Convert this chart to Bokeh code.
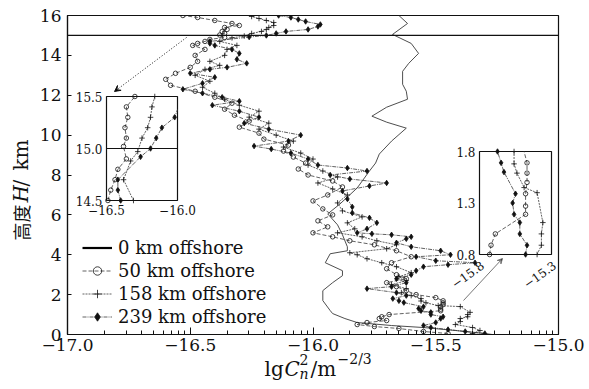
import math
from bokeh.plotting import figure
from bokeh.models import Range1d, FixedTicker, Span, Label, Arrow, VeeHead
from bokeh.embed import file_html
from bokeh.resources import INLINE

# ---------------- data ----------------
h_0km = [0.0, 0.05, 0.2, 0.35, 0.45, 0.6, 0.8, 1.05, 1.2, 1.7, 2.2, 2.6, 2.95, 3.2, 3.6,
         4.05, 4.2, 4.4, 5.0, 5.5, 6.05, 6.55, 7.35, 8.2, 8.6, 9.05, 9.7, 10.35, 10.65,
         10.95, 11.4, 11.8, 12.2, 12.55, 13.2, 13.6, 14.1, 14.6, 15.05, 15.6, 16.0]
x_0km = [-15.27, -15.30, -15.42, -15.55, -15.68, -15.82, -15.87, -15.92, -15.93, -15.96,
         -15.96, -15.92, -15.88, -15.88, -15.95, -15.93, -15.86, -15.86, -15.88, -15.90,
         -15.94, -15.89, -15.82, -15.77, -15.745, -15.73, -15.68, -15.62, -15.70, -15.76,
         -15.70, -15.615, -15.62, -15.635, -15.635, -15.61, -15.57, -15.60, -15.676,
         -15.615, -15.65]

h_50km = [0.05, 0.15, 0.3, 0.4, 0.5, 0.6, 0.7, 0.8, 0.89, 1.0, 1.19, 1.27, 1.39, 1.5, 1.59,
          1.69, 1.85, 2.0, 2.2, 2.4, 2.6, 2.8, 3.0, 3.3, 3.6, 3.9, 4.2, 4.5, 4.7, 4.9, 5.1,
          5.4, 5.7, 6.0, 6.3, 6.7, 7.0, 7.4, 7.7, 8.0, 8.3, 8.6, 8.9, 9.2, 9.5, 9.8, 10.1,
          10.4, 10.7, 11.0, 11.3, 11.6, 11.9, 12.2, 12.5, 12.8, 13.1, 13.4, 13.7, 14.0,
          14.3, 14.5, 14.6, 14.7, 14.8, 14.9, 15.02, 15.1, 15.2, 15.3, 15.4, 15.5, 15.6,
          15.75, 15.9, 16.0]
x_50km = [-15.45, -15.55, -15.65, -15.75, -15.82, -15.78, -15.70, -15.73, -15.72, -15.69,
          -15.48, -15.48, -15.48, -15.47, -15.47, -15.47, -15.50, -15.58, -15.62, -15.66,
          -15.70, -15.62, -15.66, -15.70, -15.68, -15.60, -15.66, -15.75, -15.85, -15.92,
          -16.00, -15.94, -15.98, -15.92, -15.96, -16.00, -15.94, -15.88, -15.92, -16.02,
          -16.06, -16.03, -16.08, -16.12, -16.10, -16.20, -16.22, -16.30, -16.26, -16.32,
          -16.36, -16.33, -16.40, -16.48, -16.58, -16.60, -16.56, -16.50, -16.47, -16.48,
          -16.44, -16.49, -16.47, -16.44, -16.42, -16.36, -16.38, -16.36, -16.37, -16.35,
          -16.36, -16.30, -16.33, -16.40, -16.47, -16.53]

h_158km = [0.05, 0.2, 0.35, 0.5, 0.65, 0.8, 0.89, 1.0, 1.11, 1.4, 1.45, 1.59, 1.68, 1.8,
           1.95, 2.1, 2.3, 2.5, 2.7, 2.9, 3.1, 3.4, 3.6, 3.8, 4.0, 4.1, 4.3, 4.5, 4.7, 4.9,
           5.1, 5.3, 5.6, 5.9, 6.2, 6.6, 7.0, 7.3, 7.6, 7.9, 8.2, 8.5, 8.8, 9.1, 9.4, 9.7,
           10.0, 10.3, 10.6, 10.9, 11.2, 11.5, 11.8, 12.1, 12.4, 12.7, 13.0, 13.3, 13.5,
           13.7, 14.0, 14.3, 14.5, 14.7, 14.88, 14.97, 15.1, 15.2, 15.3, 15.4, 15.5, 15.65,
           15.75, 15.85, 15.95]
x_158km = [-15.35, -15.32, -15.35, -15.42, -15.40, -15.40, -15.37, -15.37, -15.36, -15.40,
           -15.49, -15.54, -15.56, -15.56, -15.60, -15.64, -15.62, -15.68, -15.62, -15.65,
           -15.60, -15.66, -15.72, -15.78, -15.82, -15.85, -15.70, -15.66, -15.74, -15.80,
           -15.90, -15.83, -15.86, -15.80, -15.88, -15.90, -15.86, -15.92, -15.98, -15.90,
           -15.96, -16.02, -16.00, -16.05, -16.12, -16.08, -16.15, -16.22, -16.18, -16.26,
           -16.22, -16.30, -16.36, -16.40, -16.45, -16.42, -16.48, -16.44, -16.38, -16.42,
           -16.36, -16.35, -16.31, -16.38, -16.33, -16.28, -16.25, -16.21, -16.19, -16.18,
           -16.16, -16.16, -16.19, -16.22, -16.25]

h_239km = [0.05, 0.15, 0.25, 0.35, 0.45, 0.6, 0.8, 0.89, 1.0, 1.11, 1.19, 1.3, 1.39, 1.6,
           1.69, 1.8, 1.95, 2.1, 2.3, 2.4, 2.6, 2.8, 3.0, 3.2, 3.4, 3.5, 3.6, 3.7, 3.9, 4.0,
           4.2, 4.4, 4.6, 4.8, 4.9, 5.0, 5.05, 5.1, 5.3, 5.6, 5.85, 6.1, 6.4, 6.8, 7.2,
           7.45, 7.6, 7.8, 8.0, 8.2, 8.35, 8.5, 8.8, 9.1, 9.3, 9.45, 9.7, 10.0, 10.3, 10.6,
           10.9, 11.2, 11.5, 11.7, 11.9, 12.1, 12.3, 12.6, 12.9, 13.1, 13.3, 13.4, 13.6,
           13.8, 14.1, 14.3, 14.5, 14.6, 14.7, 14.92, 15.0, 15.1, 15.2, 15.3, 15.45, 15.55,
           15.7, 15.8, 15.9, 16.0]
x_239km = [-15.30, -15.38, -15.45, -15.52, -15.55, -15.50, -15.48, -15.47, -15.52, -15.52,
           -15.56, -15.57, -15.55, -15.63, -15.65, -15.675, -15.62, -15.66, -15.78, -15.68,
           -15.62, -15.66, -15.60, -15.58, -15.55, -15.45, -15.34, -15.50, -15.58, -15.44,
           -15.48, -15.60, -15.66, -15.62, -15.60, -15.68, -15.76, -15.82, -15.78, -15.74,
           -15.77, -15.84, -15.84, -15.86, -15.88, -15.77, -15.70, -15.85, -15.93, -15.78,
           -15.86, -15.98, -16.02, -16.09, -16.17, -16.24, -16.10, -16.05, -16.18, -16.28,
           -16.22, -16.30, -16.41, -16.30, -16.37, -16.45, -16.53, -16.45, -16.40, -16.50,
           -16.42, -16.35, -16.27, -16.31, -16.30, -16.33, -16.40, -16.42, -16.42, -16.26,
           -16.19, -16.15, -16.11, -16.02, -15.98, -15.97, -16.03, -16.06, -16.09, -16.14]

series_names = ["0 km offshore", "50 km offshore", "158 km offshore", "239 km offshore"]
x_ticks = [-17.0, -16.5, -16.0, -15.5, -15.0]
x_tick_labels = ["\u221217.0", "\u221216.5", "\u221216.0", "\u221215.5", "\u221215.0"]
y_ticks = [0, 2, 4, 6, 8, 10, 12, 14, 16]
h_top_line = 15.0

# ---------------- layout constants ----------------
X0, X1, Y0, Y1 = -17.0, -15.0, 0.0, 16.0
FL, FT, FW, FH = 67, 15, 491, 319           # frame left/top/width/height in px
PXX = FW / (X1 - X0)
PXY = FH / (Y1 - Y0)


def dx(px):
    return X0 + (px - FL) / PXX


def dy(py):
    return Y0 + (FT + FH - py) / PXY


INSET1 = dict(src=(-16.5, -16.0, 14.5, 15.5), box=(106, 177, 96, 200))
INSET2 = dict(src=(-15.8, -15.3, 0.8, 1.8), box=(479, 551, 151, 254))

SERIF = "DejaVu Serif"
INK = "#111111"
LINE = "#3a3a3a"

p = figure(frame_width=FW, frame_height=FH, min_border_left=FL, min_border_right=589 - FL - FW,
           min_border_top=FT, min_border_bottom=389 - FT - FH,
           x_range=Range1d(X0, X1), y_range=Range1d(Y0, Y1),
           output_backend="svg", toolbar_location=None, background_fill_color="white",
           border_fill_color="white")
p.grid.visible = False
p.outline_line_color = INK
p.outline_line_width = 1.2

minor = [t + 0.5 * math.log10(k) for t in x_ticks[:-1] for k in range(2, 10)]
p.xaxis.ticker = FixedTicker(ticks=x_ticks, minor_ticks=minor)
p.xaxis.major_label_overrides = {t: s for t, s in zip(x_ticks, x_tick_labels)}
p.yaxis.ticker = FixedTicker(ticks=y_ticks, minor_ticks=[])
for ax in (p.xaxis[0], p.yaxis[0]):
    ax.axis_line_color = INK
    ax.axis_line_width = 1.2
    ax.major_tick_line_color = INK
    ax.minor_tick_line_color = INK
    ax.major_tick_out = 0
    ax.minor_tick_out = 0
    ax.major_label_text_font = SERIF
    ax.major_label_text_font_size = "17px"
    ax.major_label_text_color = INK
p.xaxis.major_tick_in = 7
p.xaxis.minor_tick_in = 4
p.yaxis.major_tick_in = 4
p.xaxis.major_label_standoff = 4
p.yaxis.major_label_standoff = 6

p.add_layout(Span(location=h_top_line, dimension="width", line_color=INK, line_width=1.2))

styles = [
    dict(dash="solid", lw=0.9, marker=None),
    dict(dash="4 2", lw=0.8, marker="circle", size=4.5, fill=None),
    dict(dash="2 1", lw=0.8, marker="cross", size=5.5, fill=None),
    dict(dash="4 1 1 1", lw=0.8, marker="diamond", size=5.5, fill=INK),
]
xs_all = [x_0km, x_50km, x_158km, x_239km]
hs_all = [h_0km, h_50km, h_158km, h_239km]

# legend key for the solid reference line (drawn bold in the key only; no visible data)
nan = float("nan")
p.line(x=[nan, nan], y=[nan, nan], line_color="black", line_width=2.2,
       legend_label=series_names[0])
for i, (name, xs, hs, st) in enumerate(zip(series_names, xs_all, hs_all, styles)):
    kw = {} if i == 0 else dict(legend_label=name)
    p.line(xs, hs, line_color=LINE, line_width=st["lw"], line_dash=st["dash"], **kw)
    if st["marker"]:
        p.scatter(xs, hs, marker=st["marker"], size=st["size"], line_color=INK,
                  line_width=0.8, fill_color=st["fill"], legend_label=name)

leg = p.legend[0]
leg.location = (15, 7)
leg.padding = 0
leg.margin = 0
leg.spacing = 2
leg.glyph_width = 30
leg.glyph_height = 21
leg.label_height = 21
leg.label_standoff = 6
leg.border_line_color = None
leg.background_fill_alpha = 0
leg.label_text_font = SERIF
leg.label_text_font_size = "18px"
leg.label_text_color = INK


# ---------------- insets ----------------
def clip_seg(xa, ya, xb, yb, xmin, xmax, ymin, ymax):
    ddx, ddy = xb - xa, yb - ya
    t0, t1 = 0.0, 1.0
    for pp, qq in ((-ddx, xa - xmin), (ddx, xmax - xa), (-ddy, ya - ymin), (ddy, ymax - ya)):
        if pp == 0:
            if qq < 0:
                return None
        else:
            t = qq / pp
            if pp < 0:
                if t > t1:
                    return None
                t0 = max(t0, t)
            else:
                if t < t0:
                    return None
                t1 = min(t1, t)
    return (xa + t0 * ddx, ya + t0 * ddy, xa + t1 * ddx, ya + t1 * ddy, t0, t1)


def clip_poly(xs, ys, win):
    xmin, xmax, ymin, ymax = win
    lines_x, lines_y = [], []
    cur_x, cur_y = None, None
    for i in range(len(xs) - 1):
        r = clip_seg(xs[i], ys[i], xs[i + 1], ys[i + 1], xmin, xmax, ymin, ymax)
        if r is None:
            if cur_x:
                lines_x.append(cur_x); lines_y.append(cur_y)
            cur_x = None
            continue
        ax_, ay_, bx_, by_, t0, t1 = r
        if cur_x is not None and t0 == 0.0:
            cur_x.append(bx_); cur_y.append(by_)
        else:
            if cur_x:
                lines_x.append(cur_x); lines_y.append(cur_y)
            cur_x, cur_y = [ax_, bx_], [ay_, by_]
        if t1 < 1.0:
            lines_x.append(cur_x); lines_y.append(cur_y)
            cur_x = None
    if cur_x:
        lines_x.append(cur_x); lines_y.append(cur_y)
    return lines_x, lines_y


def make_inset(inset):
    sx0, sx1, sy0, sy1 = inset["src"]
    bl, br, bt, bb = inset["box"]
    sub = p.subplot(x_source=Range1d(sx0, sx1), y_source=Range1d(sy0, sy1),
                    x_target=Range1d(dx(bl), dx(br)), y_target=Range1d(dy(bb), dy(bt)))
    sub.quad(left=sx0, right=sx1, bottom=sy0, top=sy1, fill_color="white",
             line_color=INK, line_width=1.2)
    win = (sx0, sx1, sy0, sy1)
    for xs, hs, st in zip(xs_all, hs_all, styles):
        lx, ly = clip_poly(xs, hs, win)
        if lx:
            sub.multi_line(lx, ly, line_color=LINE, line_width=st["lw"],
                           line_dash=st["dash"])
        if st["marker"]:
            px_ = [x for x, h in zip(xs, hs) if sx0 <= x <= sx1 and sy0 <= h <= sy1]
            py_ = [h for x, h in zip(xs, hs) if sx0 <= x <= sx1 and sy0 <= h <= sy1]
            sub.scatter(px_, py_, marker=st["marker"], size=st["size"], line_color=INK,
                        line_width=0.8, fill_color=st["fill"])
    return sub


s1 = make_inset(INSET1)
s1.segment(x0=-16.5, x1=-16.0, y0=h_top_line, y1=h_top_line, line_color=INK, line_width=1.2)
s1.text(x=[-16.5] * 3, y=[15.5, 15.0, 14.5], text=["15.5", "15.0", "14.5"],
        text_font={"value": SERIF}, text_font_size="12px", text_align="right",
        text_baseline="middle", x_offset=-4, text_color=INK)
s1.text(x=[-16.5, -16.0], y=[14.5, 14.5], text=["\u221216.5", "\u221216.0"],
        text_font={"value": SERIF}, text_font_size="12px", text_align="center",
        text_baseline="top", y_offset=4, text_color=INK)

s2 = make_inset(INSET2)
s2.text(x=[-15.8] * 3, y=[1.8, 1.3, 0.8], text=["1.8", "1.3", "0.8"],
        text_font={"value": SERIF}, text_font_size="12px", text_align="right",
        text_baseline="middle", x_offset=-4, text_color=INK)
s2.text(x=[-15.8, -15.3], y=[0.8, 0.8], text=["\u221215.8", "\u221215.3"],
        text_font={"value": SERIF}, text_font_size="12px", text_align="right",
        text_baseline="top", angle=0.62, x_offset=0, y_offset=5, text_color=INK)

# arrows pointing to the insets
p.add_layout(Arrow(x_start=dx(186), y_start=dy(37), x_end=dx(114), y_end=dy(91),
                   line_color=INK, line_width=1, line_dash="1 2",
                   end=VeeHead(size=6, line_color=INK, line_width=1)))
p.add_layout(Arrow(x_start=dx(463), y_start=dy(300), x_end=dx(502), y_end=dy(258),
                   line_color="#777777", line_width=1,
                   end=VeeHead(size=5, line_color="#777777", line_width=1)))


# ---------------- axis titles built from pieces (outside the frame) ----------------
def lab(text, px, py, size, font=SERIF, style="normal", angle=0.0, baseline="alphabetic"):
    p.add_layout(Label(x=dx(px), y=dy(py), text=text, text_font=font, text_font_size=size,
                       text_font_style=style, angle=angle, text_align="left",
                       text_baseline=baseline, text_color=INK), "right")

# x title: lg C_n^2 / m^(-2/3)
lab("lg", 264, 368, "20px")
lab("C", 284, 368, "20px", style="italic")
lab("n", 299, 373, "14px", style="italic")
lab("2", 299, 359, "14px")
lab("/m", 310, 368, "20px")
lab("\u22122/3", 337, 358, "14px")

# y title: 高度 H/km (rotated)
R = math.pi / 2
lab("高度", 20, 240, "18px", font="Noto Sans CJK SC", angle=R, baseline="middle")
lab("H", 20, 202, "20px", style="italic", angle=R, baseline="middle")
lab("/", 20, 186, "20px", angle=R, baseline="middle")
lab("km", 20, 170, "20px", angle=R, baseline="middle")

open("out.html", "w").write(file_html(p, INLINE))
